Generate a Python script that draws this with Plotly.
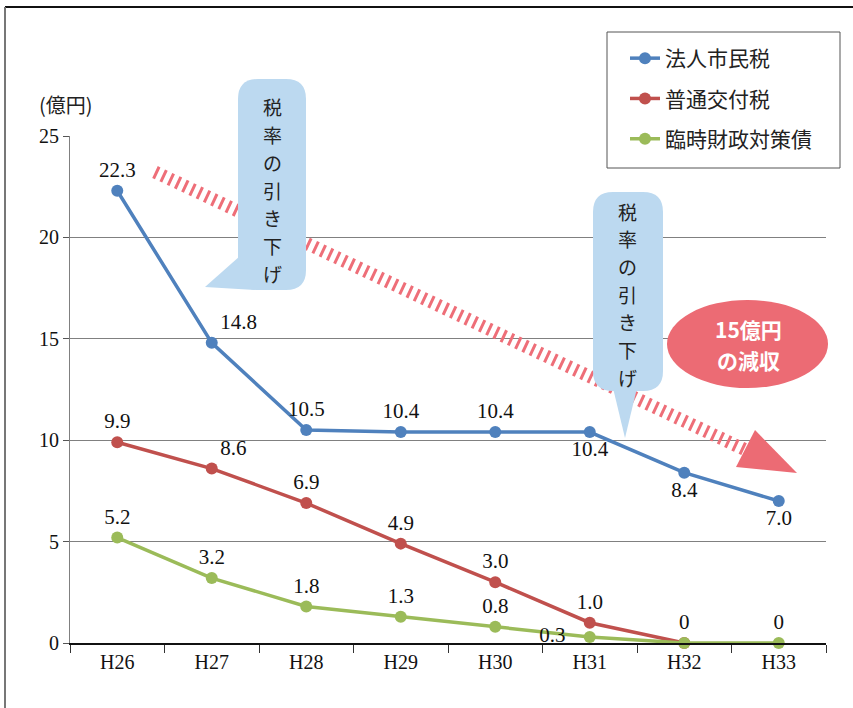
import plotly.graph_objects as go

# ---- data ----
years = ["H26", "H27", "H28", "H29", "H30", "H31", "H32", "H33"]
houjin = [22.3, 14.8, 10.5, 10.4, 10.4, 10.4, 8.4, 7.0]
futsu = [9.9, 8.6, 6.9, 4.9, 3.0, 1.0, 0, None]
rinji = [5.2, 3.2, 1.8, 1.3, 0.8, 0.3, 0, 0]

houjin_pos = ["top center", "top right", "top center", "top center", "top center",
              "bottom center", "bottom center", "bottom center"]
futsu_pos = ["top center", "top right", "top center", "top center", "top center",
             "top center", "top center", "top center"]
rinji_pos = ["top center", "top center", "top center", "top center", "top center",
             "middle left", "top center", "top center"]
rinji_show = [True, True, True, True, True, True, False, True]

callout_text = "税率の引き下げ"
ellipse_lines = ["15億円", "の減収"]
unit_label = "(億円)"

def lab(v, show=True):
    if v is None or not show:
        return ""
    return "0" if v == 0 else f"{v:.1f}"

# ---- geometry helpers (pixel -> paper) ----
L, R, T, B = 70, 826, 136, 643
W, H = R - L, B - T
def px(x): return (x - L) / W
def py(y): return (B - y) / H
def P(x, y): return f"{px(x):.5f},{py(y):.5f}"

def rrect(x0, y0, x1, y1, r):
    return (f"M {P(x0+r,y0)} L {P(x1-r,y0)} Q {P(x1,y0)} {P(x1,y0+r)} "
            f"L {P(x1,y1-r)} Q {P(x1,y1)} {P(x1-r,y1)} L {P(x0+r,y1)} "
            f"Q {P(x0,y1)} {P(x0,y1-r)} L {P(x0,y0+r)} Q {P(x0,y0)} {P(x0+r,y0)} Z")

def poly(pts):
    return "M " + " L ".join(P(x, y) for x, y in pts) + " Z"

BLUE, RED, GREEN = "#4F81BD", "#C0504D", "#9BBB59"
SERIF = "Liberation Serif"
JP = "Noto Sans CJK JP"

fig = go.Figure()
series = [("法人市民税", houjin, BLUE, houjin_pos, [True]*8),
          ("普通交付税", futsu, RED, futsu_pos, [True]*8),
          ("臨時財政対策債", rinji, GREEN, rinji_pos, rinji_show)]
for name, vals, col, pos, show in series:
    texts = [lab(v, s) for v, s in zip(vals, show)]
    texts = [t + "\u00a0" * 3 if p == "middle left" else t for t, p in zip(texts, pos)]
    fig.add_trace(go.Scatter(
        x=years, y=vals, name=name, mode="lines+markers+text",
        line=dict(color=col, width=3.5),
        marker=dict(color=col, size=12),
        text=texts,
        textposition=pos,
        textfont=dict(family=SERIF, size=21, color="#111"),
        legendgroup=name, cliponaxis=False, hoverinfo="skip",
    ))

shapes = []
# frame lines
shapes.append(dict(type="line", xref="paper", yref="paper", x0=px(5), x1=px(853), y0=py(7), y1=py(7),
                   line=dict(color="#111", width=2)))
shapes.append(dict(type="line", xref="paper", yref="paper", x0=px(5), x1=px(5), y0=py(7), y1=py(708),
                   line=dict(color="#777", width=2)))
# hatched arrow
shapes.append(dict(type="line", xref="paper", yref="paper", x0=px(155), y0=py(172), x1=px(750), y1=py(452),
                   line=dict(color="#EE6E78", width=13, dash="3px,5px"), layer="above"))
shapes.append(dict(type="path", xref="paper", yref="paper",
                   path=poly([(755, 430), (797, 473), (736, 467)]),
                   fillcolor="#EC6B74", line=dict(width=0), layer="above"))
# callout 1
shapes.append(dict(type="path", xref="paper", yref="paper", path=rrect(238, 79, 306, 290, 20),
                   fillcolor="#BCD9F0", line=dict(width=0), layer="above"))
shapes.append(dict(type="path", xref="paper", yref="paper", path=poly([(240, 256), (205, 287), (255, 290)]),
                   fillcolor="#BCD9F0", line=dict(width=0), layer="above"))
# callout 2
shapes.append(dict(type="path", xref="paper", yref="paper", path=rrect(593, 192, 663, 391, 20),
                   fillcolor="#BCD9F0", line=dict(width=0), layer="above"))
shapes.append(dict(type="path", xref="paper", yref="paper", path=poly([(613, 388), (625, 438), (637, 388)]),
                   fillcolor="#BCD9F0", line=dict(width=0), layer="above"))
# ellipse
shapes.append(dict(type="circle", xref="paper", yref="paper", x0=px(667), x1=px(828), y0=py(300), y1=py(388),
                   fillcolor="#EC6B74", line=dict(width=0), layer="above"))
# legend box
shapes.append(dict(type="rect", xref="paper", yref="paper", x0=px(607), x1=px(840), y0=py(32), y1=py(168),
                   fillcolor="white", line=dict(color="#555", width=1), layer="above"))

annotations = []
# vertical callout texts, one glyph per annotation
for cx, top in [(272, 107), (627, 211)]:
    for i, ch in enumerate(callout_text):
        annotations.append(dict(xref="paper", yref="paper", x=px(cx), y=py(top + 27.7 * i), text=ch,
                                showarrow=False, font=dict(family=JP, size=19, color="#222"),
                                xanchor="center", yanchor="middle", borderpad=0))
for i, line in enumerate(ellipse_lines):
    annotations.append(dict(xref="paper", yref="paper", x=px(748), y=py(329 + 30.8 * i), text=f"<b>{line}</b>",
                            showarrow=False, font=dict(family=JP, size=21, color="white"),
                            xanchor="center", yanchor="middle", borderpad=0))
annotations.append(dict(xref="paper", yref="paper", x=px(66), y=py(105), text=unit_label, showarrow=False,
                        font=dict(family=JP, size=20, color="#222"), xanchor="center", yanchor="middle"))

fig.update_layout(
    width=853, height=708,
    margin=dict(l=L, r=853 - R, t=T, b=708 - B),
    paper_bgcolor="white", plot_bgcolor="white",
    shapes=shapes, annotations=annotations,
    showlegend=True, hovermode=False,
    legend=dict(x=px(625), y=py(38), xanchor="left", yanchor="top",
                bgcolor="rgba(0,0,0,0)", borderwidth=0,
                font=dict(family=JP, size=21, color="#222"),
                traceorder="grouped", tracegroupgap=10),
    xaxis=dict(type="category", range=[-0.5, 7.5], showgrid=False, showline=True,
               linecolor="#111", linewidth=1.5, ticks="outside", tickson="boundaries",
               ticklen=8, tickcolor="#333",
               tickfont=dict(family=SERIF, size=20, color="#111")),
    yaxis=dict(range=[0, 25], dtick=5, showgrid=True, gridcolor="#808080", gridwidth=1,
               showline=True, linecolor="#808080", linewidth=1, zeroline=False,
               ticks="outside", ticklen=6, tickcolor="#555",
               tickfont=dict(family=SERIF, size=20, color="#111")),
)

fig.write_html("out.html", config={"displayModeBar": False},
               post_script="document.body.style.margin='0';")
